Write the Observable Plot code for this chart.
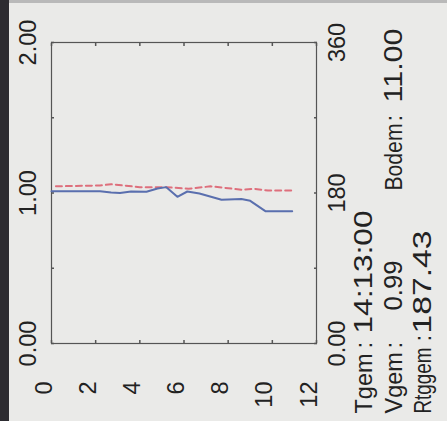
<!DOCTYPE html>
<html>
<head>
<meta charset="utf-8">
<script src="https://cdn.jsdelivr.net/npm/d3@7"></script>
<script src="https://cdn.jsdelivr.net/npm/@observablehq/plot@0.6"></script>
<style>
  html, body { margin: 0; padding: 0; background: #eaeae8; }
  #wrap { position: relative; width: 447px; height: 421px; overflow: hidden; background: #eaeae8; }
  #wrap svg { position: absolute; left: 0; top: 0; }
  #edge { position: absolute; left: 0; top: 0; width: 9px; height: 421px; background: #2d2c31; }
  #topline { position: absolute; left: 9px; top: 0; width: 438px; height: 3px; background: #b9b9b9; }
</style>
</head>
<body>
<div id="wrap"><div id="edge"></div><div id="topline"></div></div>
<script>
// Depth axis (horizontal) ticks
const depthTicks = [0, 2, 4, 6, 8, 10, 12];
// Velocity axis (left) ticks and labels
const velTickValues = [0, 1, 2];
const velTickLabels = ["0.00", "1.00", "2.00"];
const velMinorTicks = [0, 0.5, 1, 1.5, 2];
// Direction axis (right) labels, 0..360 on same vertical span
const dirTickLabels = ["0.00", "180", "360"];

// Velocity profile (blue, solid)
const velDepth = [0, 2.2, 2.7, 3.1, 3.6, 4.3, 4.8, 5.2, 5.7, 6.15, 6.7, 7.7, 8.6, 9.0, 9.7, 10.9];
const velValue = [1.012, 1.012, 1.003, 1.0, 1.01, 1.008, 1.03, 1.039, 0.975, 1.01, 0.997, 0.955, 0.96, 0.948, 0.878, 0.878];

// Direction profile (red, dashed), degrees
const dirDepth = [0.2, 2.2, 2.7, 4.0, 5.2, 6.2, 7.2, 8.6, 9.2, 9.8, 10.9];
const dirValue = [188, 189, 190.5, 187, 187, 185, 188, 184, 185, 183, 183];

// Info texts
const infoLabels = ["Tgem", "Vgem", "Rtggem"];
const infoValues = ["14:13:00", "0.99", "187.43"];
const bodemLabel = "Bodem";
const bodemValue = "11.00";

const velData = velDepth.map((d, i) => ({depth: d, v: velValue[i]}));
const dirData = dirDepth.map((d, i) => ({depth: d, v: dirValue[i] / 180}));

const FS = 23.5, FSV = 25;
const textStyle = {rotate: -90, fontSize: FS, fill: "#222", frameAnchor: "bottom-right", lineAnchor: "bottom", textAnchor: "start"};
const valueStyle = {...textStyle, fontSize: FSV};

// layout of the info block (offsets from the frame's bottom-right corner) and text lengths
const lineDx = [55, 85, 114];
const labelDy = 70, labelLen = [0, 0, 66];
const colonDy = [5, 5, -2];
const valueDy = [-10, -33, -10], valueLen = [123, 50, 103];
const lengths = new Map();
const infoMarks = [];
infoLabels.forEach((lab, i) => {
  infoMarks.push(Plot.text([lab], {...textStyle, text: d => d, dx: lineDx[i], dy: labelDy}));
  infoMarks.push(Plot.text([":"], {...textStyle, text: d => d, dx: lineDx[i], dy: colonDy[i]}));
  infoMarks.push(Plot.text([infoValues[i]], {...valueStyle, text: d => d, dx: lineDx[i], dy: valueDy[i]}));
  if (labelLen[i]) lengths.set(lab, labelLen[i]);
  lengths.set(infoValues[i], valueLen[i]);
});
infoMarks.push(Plot.text([bodemLabel], {...textStyle, text: d => d, dx: lineDx[1], dy: -153}));
infoMarks.push(Plot.text([":"], {...textStyle, text: d => d, dx: lineDx[1], dy: -222}));
infoMarks.push(Plot.text([bodemValue], {...valueStyle, text: d => d, dx: lineDx[1], dy: -241}));
lengths.set(bodemLabel, 67);
lengths.set(bodemValue, 74);

const chart = Plot.plot({
  width: 447,
  height: 421,
  marginLeft: 51,
  marginRight: 131,
  marginTop: 42,
  marginBottom: 78,
  style: {background: "transparent", fontFamily: "'Liberation Sans', Arial, sans-serif", color: "#222"},
  x: {domain: [0, 12], label: null},
  y: {domain: [0, 2], label: null},
  marks: [
    Plot.frame({stroke: "#555", strokeWidth: 1.2}),
    // inward ticks on all four sides
    Plot.axisX(depthTicks, {anchor: "bottom", label: null, tickSize: -3, fill: "none", stroke: "#555", strokeWidth: 1.5}),
    Plot.axisX(depthTicks, {anchor: "top", label: null, tickSize: -3, fill: "none", stroke: "#555", strokeWidth: 1.5}),
    Plot.axisY(velMinorTicks, {anchor: "left", label: null, tickSize: -3, fill: "none", stroke: "#555", strokeWidth: 1.5}),
    Plot.axisY(velMinorTicks, {anchor: "right", label: null, tickSize: -3, fill: "none", stroke: "#555", strokeWidth: 1.5}),
    // labels
    Plot.axisX(depthTicks, {anchor: "bottom", label: null, tickSize: 0, tickRotate: -90, tickPadding: 38, fontSize: FS, lineAnchor: "bottom", fill: "#222"}),
    Plot.axisY(velTickValues, {anchor: "left", label: null, tickSize: 0, tickRotate: -90, tickPadding: 16, fontSize: FS, lineAnchor: "bottom", fill: "#222",
      tickFormat: d => velTickLabels[velTickValues.indexOf(d)]}),
    Plot.axisY(velTickValues, {anchor: "right", label: null, tickSize: 0, tickRotate: -90, tickPadding: 12, fontSize: FS, lineAnchor: "top", fill: "#222",
      tickFormat: d => dirTickLabels[velTickValues.indexOf(d)]}),
    // data
    Plot.line(dirData, {x: "depth", y: "v", stroke: "#de6f7c", strokeWidth: 2, strokeDasharray: "6,4"}),
    Plot.line(velData, {x: "depth", y: "v", stroke: "#5a6fae", strokeWidth: 2}),
    ...infoMarks
  ]
});
// fit the info texts to the lengths measured on the reference
chart.querySelectorAll("text").forEach(t => {
  const L = lengths.get(t.textContent);
  if (L) { t.setAttribute("textLength", L); t.setAttribute("lengthAdjust", "spacingAndGlyphs"); }
});
document.getElementById("wrap").appendChild(chart);
</script>
</body>
</html>
